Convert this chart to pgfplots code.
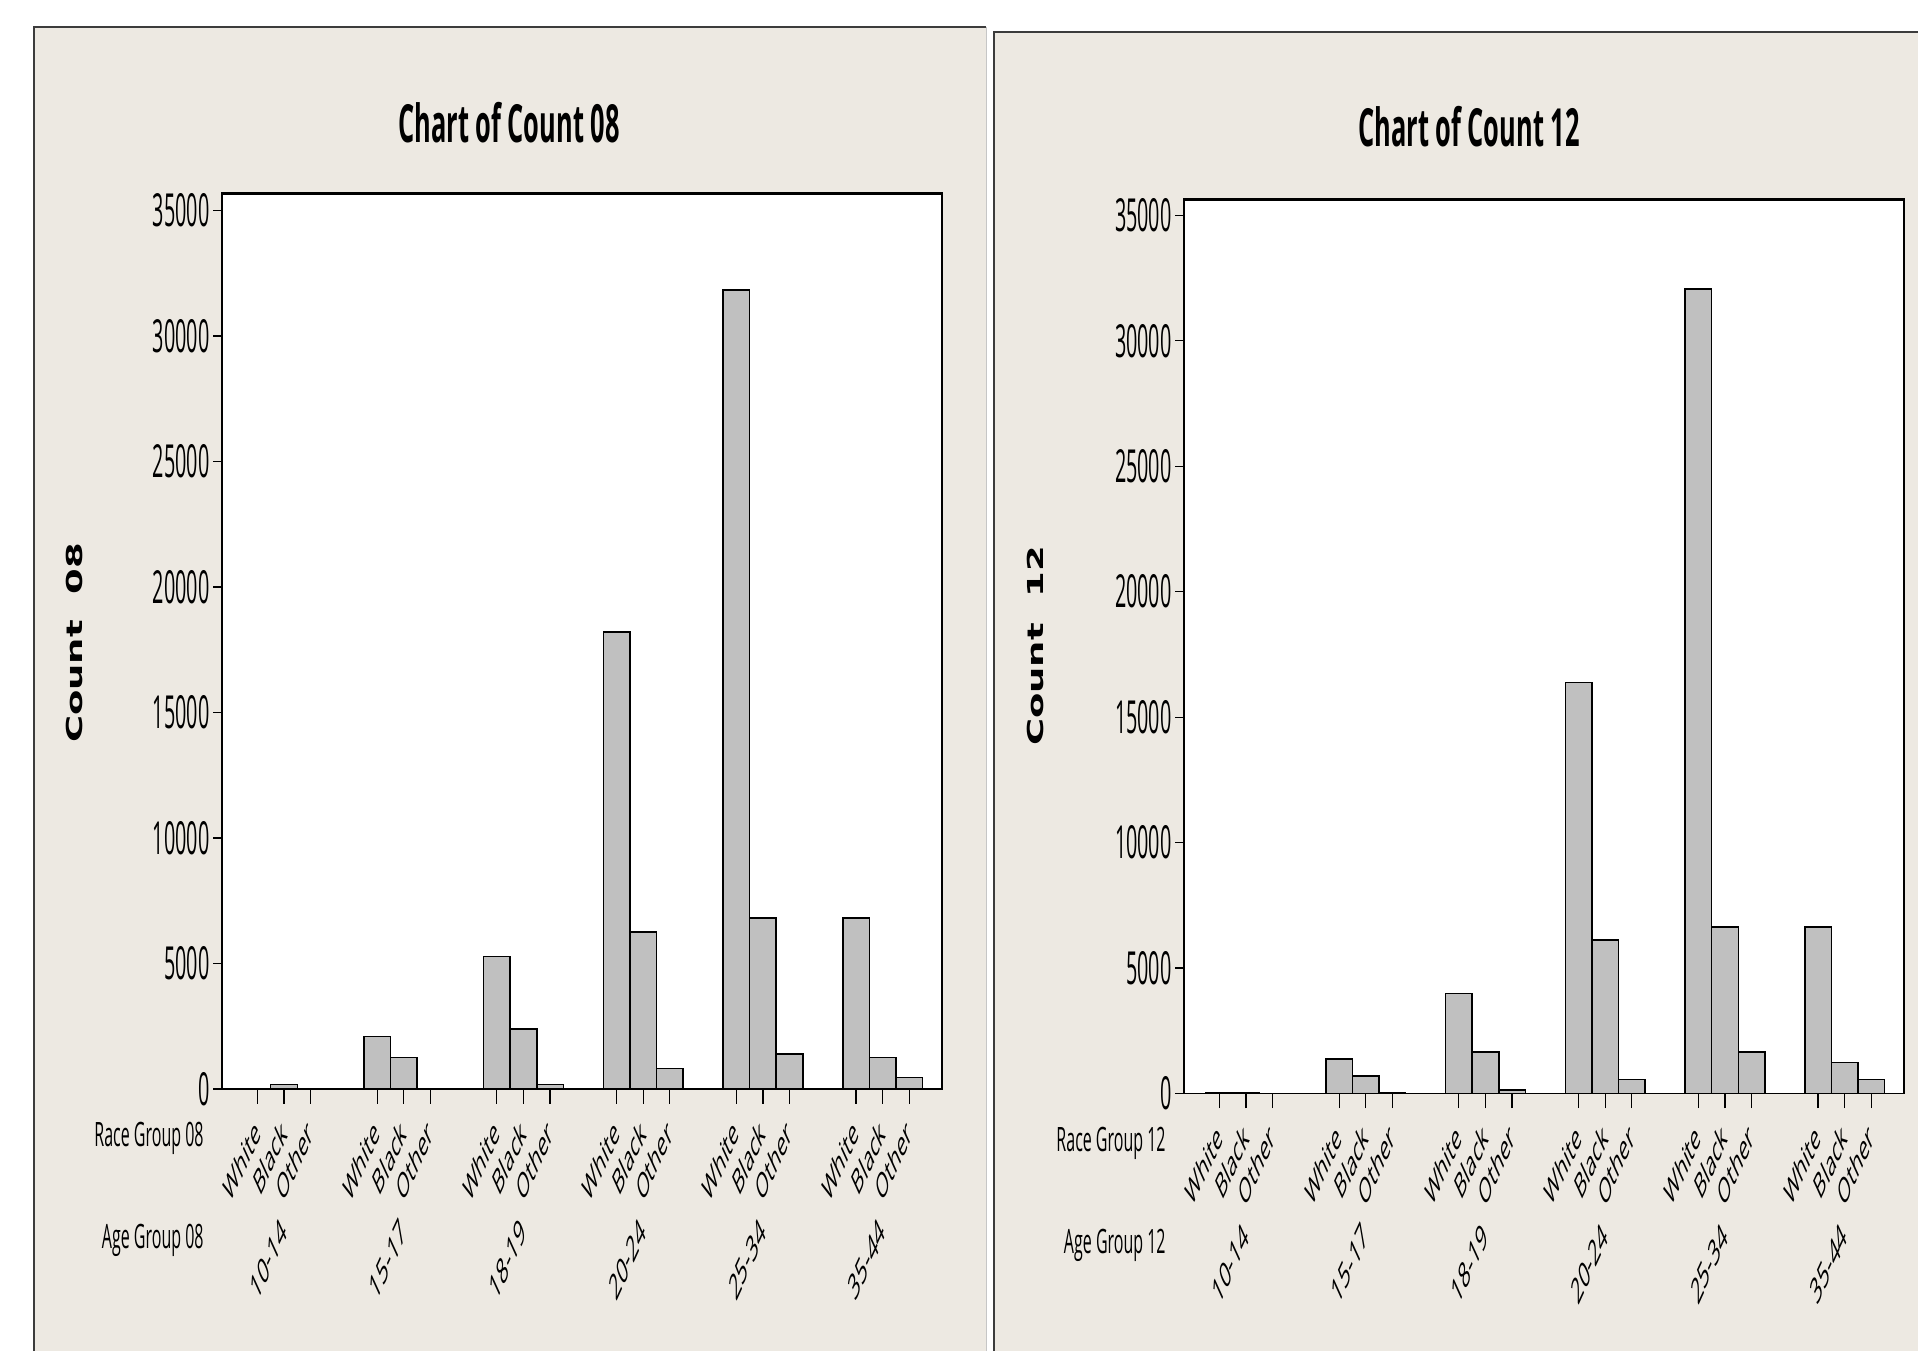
\documentclass[border=0pt]{standalone}
\usepackage{pgfplots}
\pgfplotsset{compat=1.18}
\usepackage{fontspec}
\setmainfont{Open Sans}
\newfontfamily\ylabfont{DejaVu Sans}
\definecolor{panel}{HTML}{EDE9E2}
\definecolor{barfill}{HTML}{C0C0C0}
\definecolor{edge}{HTML}{3C3C3C}
\pgfplotsset{
  minitab/.style={
    scale only axis, width=360pt,
    xmin=-1.33, xmax=25.73, ymin=0,
    axis background/.style={fill=white},
    axis line style={line width=0.7pt, black},
    tick pos=left, tick align=outside,
    major tick length=4.5pt,
    tick style={black, line width=0.6pt},
    xtick style={/pgfplots/major tick length=7.3pt},
    ytick={0,5000,...,35000},
    scaled y ticks=false,
    /pgf/number format/1000 sep={},
    /pgf/number format/assume math mode=true,
    yticklabel style={font=\fontsize{9.9}{10}\selectfont, yscale=2.3, inner sep=0pt, anchor=east, xshift=-1.5pt},
    xtick={0,1,2,4.5,5.5,6.5,9,10,11,13.5,14.5,15.5,18,19,20,22.5,23.5,24.5},
    xticklabels={White,Black,Other,White,Black,Other,White,Black,Other,White,Black,Other,White,Black,Other,White,Black,Other},
    xticklabel style={font=\fontsize{8}{9}\selectfont, inner sep=0pt, anchor=east, cm={0.7071,1.5556,-0.7071,1.5556,(0,0)}},
    xticklabel shift=14pt,
    extra x ticks={1,5.5,10,14.5,19,23.5},
    extra x tick labels={10-14,15-17,18-19,20-24,25-34,35-44},
    extra x tick style={major tick length=0pt, xticklabel shift=68pt, xticklabel style={font=\fontsize{8.3}{9}\selectfont}},
  },
  bars/.style={ybar, bar width=1, fill=barfill, draw=black, line width=0.75pt},
}
\begin{document}
\begin{tikzpicture}
\useasboundingbox (0,0) rectangle (959pt,675.5pt);
\fill[white] (0,0) rectangle (959pt,675.5pt);
\fill[panel] (16.5pt,0) rectangle (493pt,662pt);
\draw[edge, line width=1.2pt] (17pt,0) -- (17pt,662pt) -- (493pt,662pt);
\draw[gray!45, line width=0.5pt] (493pt,0) -- (493pt,662pt);
\fill[panel] (496.5pt,0) rectangle (959pt,659.6pt);
\draw[edge, line width=1.2pt] (497pt,0) -- (497pt,659.6pt) -- (959pt,659.6pt);

\begin{axis}[minitab, at={(111pt,131pt)}, anchor=south west, height=448pt, ymax=35700]
\addplot[bars] coordinates {(0,30) (1,187) (2,10) (4.5,2086) (5.5,1249) (6.5,30) (9,5277) (10,2381) (11,187) (13.5,18213) (14.5,6250) (15.5,826) (18,31827) (19,6809) (20,1396) (22.5,6809) (23.5,1249) (24.5,451)};
\draw[line width=1.6pt] (rel axis cs:0,1) -- (rel axis cs:1,1);
\end{axis}

\begin{axis}[minitab, at={(592pt,128.75pt)}, anchor=south west, height=447.25pt, ymax=35650]
\addplot[bars] coordinates {(0,20) (1,15) (2,10) (4.5,1367) (5.5,690) (6.5,20) (9,3986) (10,1658) (11,132) (13.5,16373) (14.5,6110) (15.5,558) (18,32070) (19,6640) (20,1658) (22.5,6640) (23.5,1236) (24.5,558)};
\draw[line width=1.6pt] (rel axis cs:0,1) -- (rel axis cs:1,1);
\end{axis}

\node[font=\fontsize{12.7}{14}\selectfont\bfseries, yscale=2.07] at (254.5pt,614pt) {Chart of Count 08};
\node[font=\fontsize{12.7}{14}\selectfont\bfseries, yscale=2.07] at (734.5pt,612pt) {Chart of Count 12};
\node[font=\fontsize{11}{12}\selectfont\ylabfont\bfseries, cm={0,1.68,-1,0,(0,0)}] at (37.25pt,354pt) {Count\ \ 08};
\node[font=\fontsize{11}{12}\selectfont\ylabfont\bfseries, cm={0,1.68,-1,0,(0,0)}] at (517.5pt,352.5pt) {Count\ \ 12};
\node[font=\fontsize{8}{9}\selectfont, anchor=east, inner sep=0pt, yscale=2.1] at (102pt,106.5pt) {Race Group 08};
\node[font=\fontsize{8}{9}\selectfont, anchor=east, inner sep=0pt, yscale=2.1] at (102pt,55.5pt) {Age Group 08};
\node[font=\fontsize{8}{9}\selectfont, anchor=east, inner sep=0pt, yscale=2.1] at (583pt,104pt) {Race Group 12};
\node[font=\fontsize{8}{9}\selectfont, anchor=east, inner sep=0pt, yscale=2.1] at (583pt,53pt) {Age Group 12};
\end{tikzpicture}
\end{document}
